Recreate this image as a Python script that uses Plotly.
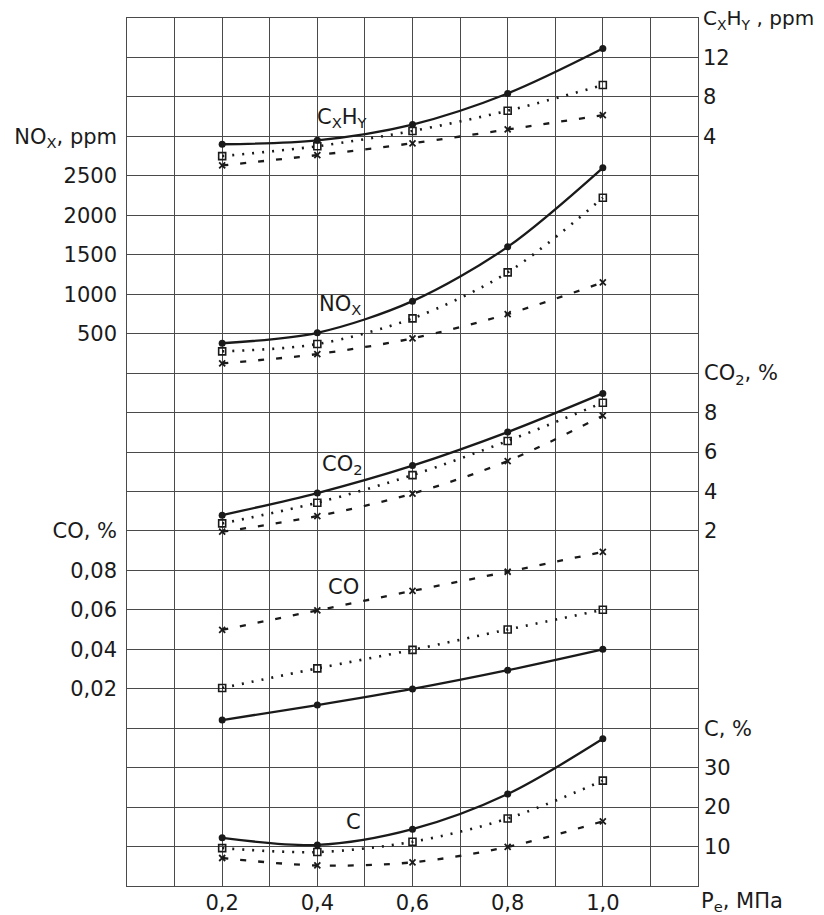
import plotly.graph_objects as go

# ---- data ----
pe = [0.2, 0.4, 0.6, 0.8, 1.0]

cxhy_solid = [3.2, 3.6, 5.2, 8.35, 12.9]
cxhy_dot = [2.0, 3.0, 4.55, 6.6, 9.2]
cxhy_dash = [1.05, 2.1, 3.3, 4.7, 6.15]

nox_solid = [378, 511, 912, 1600, 2602]
nox_dot = [275, 368, 693, 1276, 2222]
nox_dash = [123, 241, 440, 748, 1149]

co2_solid = [2.8, 3.92, 5.31, 7.01, 8.97]
co2_dot = [2.38, 3.43, 4.83, 6.56, 8.5]
co2_dash = [1.96, 2.75, 3.89, 5.54, 7.84]

co_solid = [0.0041, 0.0117, 0.0199, 0.0294, 0.040]
co_dot = [0.0204, 0.0303, 0.0397, 0.050, 0.060]
co_dash = [0.0498, 0.0597, 0.0696, 0.0793, 0.0894]

c_solid = [12.2, 10.4, 14.4, 23.3, 37.3]
c_dot = [9.6, 8.6, 11.2, 17.1, 26.7]
c_dash = [7.1, 5.2, 6.0, 9.9, 16.4]

x_labels_at = [0.2, 0.4, 0.6, 0.8, 1.0]
x_ticktext = ["0,2", "0,4", "0,6", "0,8", "1,0"]

nox_ticks = [500, 1000, 1500, 2000, 2500, 3000]
nox_ticktext = ["500", "1000", "1500", "2000", "2500", "NO<sub>X</sub>, ppm"]
co_ticks = [0.02, 0.04, 0.06, 0.08, 0.10]
co_ticktext = ["0,02", "0,04", "0,06", "0,08", "CO, %"]
cxhy_ticks = [4, 8, 12, 16]
cxhy_ticktext = ["4", "8", "12",
                 "<span style='font-size:20px'>C<sub>X</sub>H<sub>Y</sub> , ppm</span>"]
co2_ticks = [2, 4, 6, 8, 10]
co2_ticktext = ["2", "4", "6", "8", "CO<sub>2</sub>, %"]
c_ticks = [10, 20, 30, 40]
c_ticktext = ["10", "20", "30", "C, %"]

FONT = "DejaVu Sans"
FS = 21
INK = "#1a1a1a"
GRID = "#4a4a4a"

fig = go.Figure()

# invisible trace so that the base (grid) subplot is drawn
fig.add_trace(go.Scatter(x=[0, 1.2], y=[0, 22], mode="markers", marker=dict(opacity=0),
                         hoverinfo="skip", xaxis="x", yaxis="y"))

def add_group(solid, dot, dash, yaxis):
    fig.add_trace(go.Scatter(x=pe, y=solid, xaxis="x", yaxis=yaxis, mode="lines+markers",
                             line=dict(color=INK, width=2.3, shape="spline", smoothing=0.9),
                             marker=dict(symbol="circle", size=7, color=INK)))
    fig.add_trace(go.Scatter(x=pe, y=dot, xaxis="x", yaxis=yaxis, mode="lines+markers",
                             line=dict(color=INK, width=2.6, shape="spline", smoothing=0.9, dash="2px,8px"),
                             marker=dict(symbol="square-open", size=7, color=INK, line=dict(width=1.6, color=INK))))
    fig.add_trace(go.Scatter(x=pe, y=dash, xaxis="x", yaxis=yaxis, mode="lines+markers",
                             line=dict(color=INK, width=2.3, shape="spline", smoothing=0.9, dash="6px,12px"),
                             marker=dict(symbol="x-thin-open", size=6, color=INK, line=dict(width=1.8, color=INK))))

add_group(cxhy_solid, cxhy_dot, cxhy_dash, "y4")
add_group(nox_solid, nox_dot, nox_dash, "y2")
add_group(co2_solid, co2_dot, co2_dash, "y5")
add_group(co_solid, co_dot, co_dash, "y3")
add_group(c_solid, c_dot, c_dash, "y6")

tickfont = dict(family=FONT, size=FS, color=INK)

def side_axis(rng, tv, tt, side, standoff):
    return dict(range=rng, tickmode="array", tickvals=tv, ticktext=tt, side=side,
                overlaying="y", anchor="x", ticklabeloverflow="allow",
                showgrid=False, zeroline=False, showline=False, ticks="",
                tickfont=tickfont, ticklabelstandoff=standoff)

# page body has an 8px margin: figure is sized/offset to compensate
fig.update_layout(
    width=816, height=907,
    margin=dict(l=119, r=126, t=10, b=29, autoexpand=False),
    paper_bgcolor="white", plot_bgcolor="white",
    showlegend=False,
    font=dict(family=FONT, size=FS, color=INK),
    xaxis=dict(range=[0, 1.2], tickmode="array", tickvals=x_labels_at, ticktext=x_ticktext,
               showgrid=False, ticklabeloverflow="allow",
               minor=dict(dtick=0.1, tick0=0, showgrid=True, gridcolor=GRID, gridwidth=1.2, ticks=""),
               showline=True, linecolor=GRID, linewidth=1.2, mirror=True,
               zeroline=False, ticks="", tickfont=tickfont, ticklabelstandoff=-2),
    yaxis=dict(range=[0, 22], tickmode="linear", tick0=0, dtick=1, showgrid=True,
               gridcolor=GRID, gridwidth=1.2,
               showline=True, linecolor=GRID, linewidth=1.2, mirror=True,
               zeroline=False, showticklabels=False, ticks=""),
    yaxis2=side_axis([-6500, 4500], nox_ticks, nox_ticktext, "left", 9),
    yaxis3=side_axis([-0.08, 0.36], co_ticks, co_ticktext, "left", 9),
    yaxis4=side_axis([-72, 16.0001], cxhy_ticks, cxhy_ticktext, "right", 4),
    yaxis5=side_axis([-16, 28], co2_ticks, co2_ticktext, "right", 5),
    yaxis6=side_axis([-0.0001, 220], c_ticks, c_ticktext, "right", 5),
)

ann = dict(showarrow=False, font=dict(family=FONT, size=FS, color=INK))
fig.add_annotation(x=0.452, y=5.9, xref="x", yref="y4", text="C<sub>X</sub>H<sub>Y</sub>", **ann)
fig.add_annotation(x=0.448, y=862, xref="x", yref="y2", text="NO<sub>X</sub>", **ann)
fig.add_annotation(x=0.452, y=5.32, xref="x", yref="y5", text="CO<sub>2</sub>", **ann)
fig.add_annotation(x=0.456, y=0.0715, xref="x", yref="y3", text="CO", **ann)
fig.add_annotation(x=0.475, y=16.2, xref="x", yref="y6", text="C", **ann)
fig.add_annotation(x=1.0, y=0, xref="paper", yref="paper", xanchor="left", yanchor="top",
                   xshift=1, yshift=-1, text="P<sub>e</sub>, МПа", **ann)

fig.write_html("out.html")
